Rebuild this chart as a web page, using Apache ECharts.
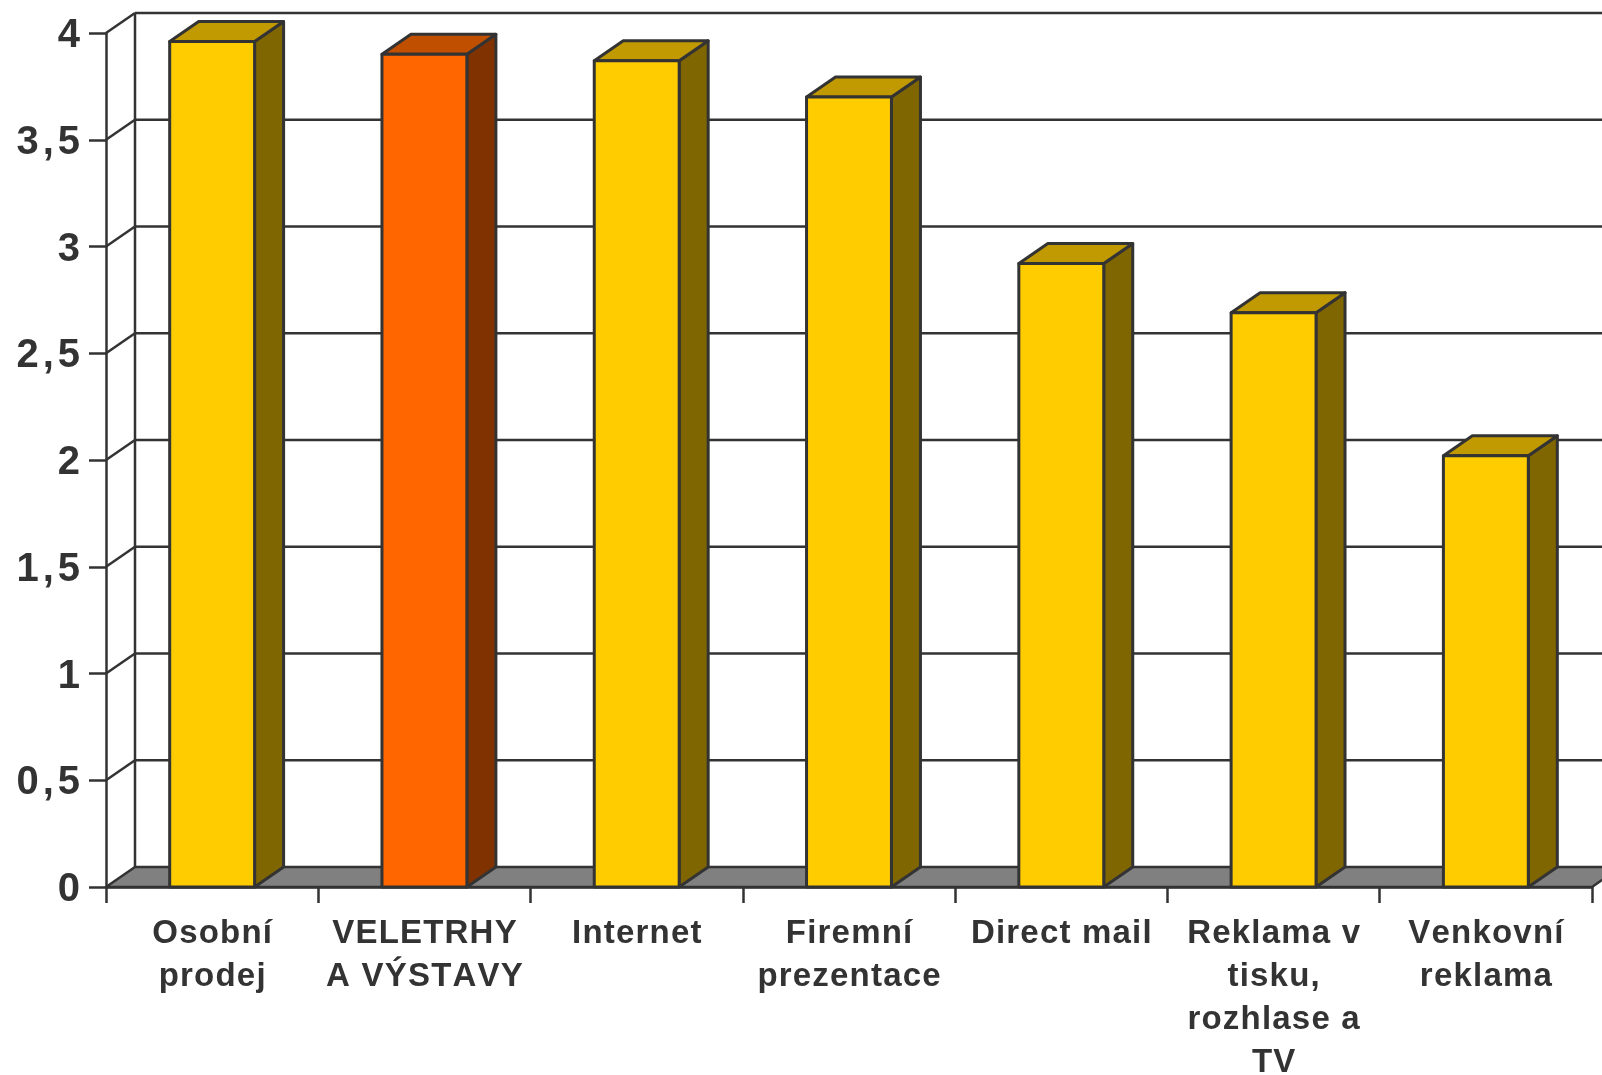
<!DOCTYPE html>
<html>
<head>
<meta charset="utf-8">
<script src="https://cdn.jsdelivr.net/npm/echarts@6/dist/echarts.min.js"></script>
<style>
html,body{margin:0;padding:0;background:#fff;}
#chart{width:1602px;height:1075px;}
</style>
</head>
<body>
<div id="chart"></div>
<script>
// ---- data ----
const categories = ['Osobní\nprodej', 'VELETRHY\nA VÝSTAVY', 'Internet', 'Firemní\nprezentace', 'Direct mail', 'Reklama v\ntisku,\nrozhlase a\nTV', 'Venkovní\nreklama'];
const values = [3.96, 3.90, 3.87, 3.70, 2.92, 2.69, 2.02];
const yTicks = [0, 0.5, 1, 1.5, 2, 2.5, 3, 3.5, 4];
const yTickLabels = ['0', '0,5', '1', '1,5', '2', '2,5', '3', '3,5', '4'];
const highlighted = 'VELETRHY\nA VÝSTAVY';

// ---- style ----
const DX = 29, DY = -20;
const LINE = '#333333';
const FONT = 'Liberation Sans, Arial, sans-serif';
const yellow = {front: '#FFCC00', top: '#C09A00', side: '#806600'};
const orange = {front: '#FF6600', top: '#C04F00', side: '#803300'};

// spread characters slightly (letter spacing) using rich text tokens
function spaced(text, key) {
  return text.split('\n').map(function (line) {
    return Array.from(line).map(function (ch) { return '{' + key + '|' + ch + '}'; }).join('');
  }).join('\n');
}

const chart = echarts.init(document.getElementById('chart'), null, {renderer: 'canvas'});

function wallItem(params, api) {
  const cs = params.coordSys;
  const v = api.value(1);
  const y = api.coord([0, v])[1];
  const children = [];
  if (v !== 0) {
    children.push({type: 'line', shape: {x1: cs.x, y1: y, x2: cs.x + DX, y2: y + DY},
      style: {stroke: LINE, lineWidth: 2.5}});
    children.push({type: 'line', shape: {x1: cs.x + DX, y1: y + DY, x2: cs.x + cs.width + DX + 40, y2: y + DY},
      style: {stroke: LINE, lineWidth: 2.5}});
  }
  if (params.dataIndex === 0) {
    const yTop = api.coord([0, yTicks[yTicks.length - 1]])[1];
    children.push({type: 'line', shape: {x1: cs.x + DX, y1: yTop + DY, x2: cs.x + DX, y2: y + DY},
      style: {stroke: LINE, lineWidth: 2.5}});
    children.push({type: 'polygon', shape: {points: [
        [cs.x, y], [cs.x + cs.width, y], [cs.x + cs.width + DX, y + DY], [cs.x + DX, y + DY]]},
      style: {fill: '#808080', stroke: LINE, lineWidth: 2.5, lineJoin: 'round'}});
  }
  return {type: 'group', children: children};
}

function barItem(params, api) {
  const idx = api.value(0);
  const top = api.coord([idx, api.value(1)]);
  const base = api.coord([idx, 0]);
  const w = api.size([1, 0])[0] * 0.4;
  const x = top[0] - w / 2;
  const c = categories[idx] === highlighted ? orange : yellow;
  const st = {stroke: LINE, lineWidth: 3, lineJoin: 'round'};
  return {type: 'group', children: [
    {type: 'polygon', shape: {points: [[x + w, top[1]], [x + w + DX, top[1] + DY], [x + w + DX, base[1] + DY], [x + w, base[1]]]},
      style: Object.assign({fill: c.side}, st)},
    {type: 'polygon', shape: {points: [[x, top[1]], [x + DX, top[1] + DY], [x + w + DX, top[1] + DY], [x + w, top[1]]]},
      style: Object.assign({fill: c.top}, st)},
    {type: 'rect', shape: {x: x, y: top[1], width: w, height: base[1] - top[1]},
      style: Object.assign({fill: c.front}, st)}
  ]};
}

chart.setOption({
  animation: false,
  backgroundColor: '#ffffff',
  grid: {left: 106, right: 10, top: 33, bottom: 188, containLabel: false, outerBoundsMode: 'none'},
  xAxis: {
    type: 'category',
    data: categories,
    boundaryGap: true,
    axisLine: {show: true, lineStyle: {color: LINE, width: 2.5}},
    axisTick: {show: true, length: 16, lineStyle: {color: LINE, width: 2.5}},
    axisLabel: {
      interval: 0, margin: 25, color: '#333333',
      fontFamily: FONT, fontWeight: 'bold', fontSize: 33, lineHeight: 43, align: 'center',
      formatter: function (v) { return spaced(v, 'c'); },
      rich: {
        c: {fontFamily: FONT, fontWeight: 'bold', fontSize: 33, lineHeight: 43, color: '#333333', padding: [0, 0.6, 0, 0.6]}
      }
    },
    splitLine: {show: false},
    z: 10
  },
  yAxis: {
    type: 'value',
    min: 0, max: 4, interval: 0.5,
    axisLine: {show: true, lineStyle: {color: LINE, width: 2.5}},
    axisTick: {show: true, length: 17, lineStyle: {color: LINE, width: 2.5}},
    axisLabel: {
      margin: 24, color: '#333333',
      fontFamily: FONT, fontWeight: 'bold', fontSize: 40,
      formatter: function (v) { const i = yTicks.indexOf(v); return i >= 0 ? spaced(yTickLabels[i], 'd') : ''; },
      rich: {
        d: {fontFamily: FONT, fontWeight: 'bold', fontSize: 40, color: '#333333', padding: [6, 2, 0, 2]}
      }
    },
    splitLine: {show: false},
    z: 10
  },
  series: [
    {
      type: 'custom', name: 'walls', z: 1, silent: true, clip: false,
      renderItem: wallItem,
      data: yTicks.map(function (v) { return [0, v]; })
    },
    {
      type: 'custom', name: 'bars', z: 5, clip: false,
      renderItem: barItem,
      data: values.map(function (v, i) { return [i, v]; })
    }
  ]
});
</script>
</body>
</html>
